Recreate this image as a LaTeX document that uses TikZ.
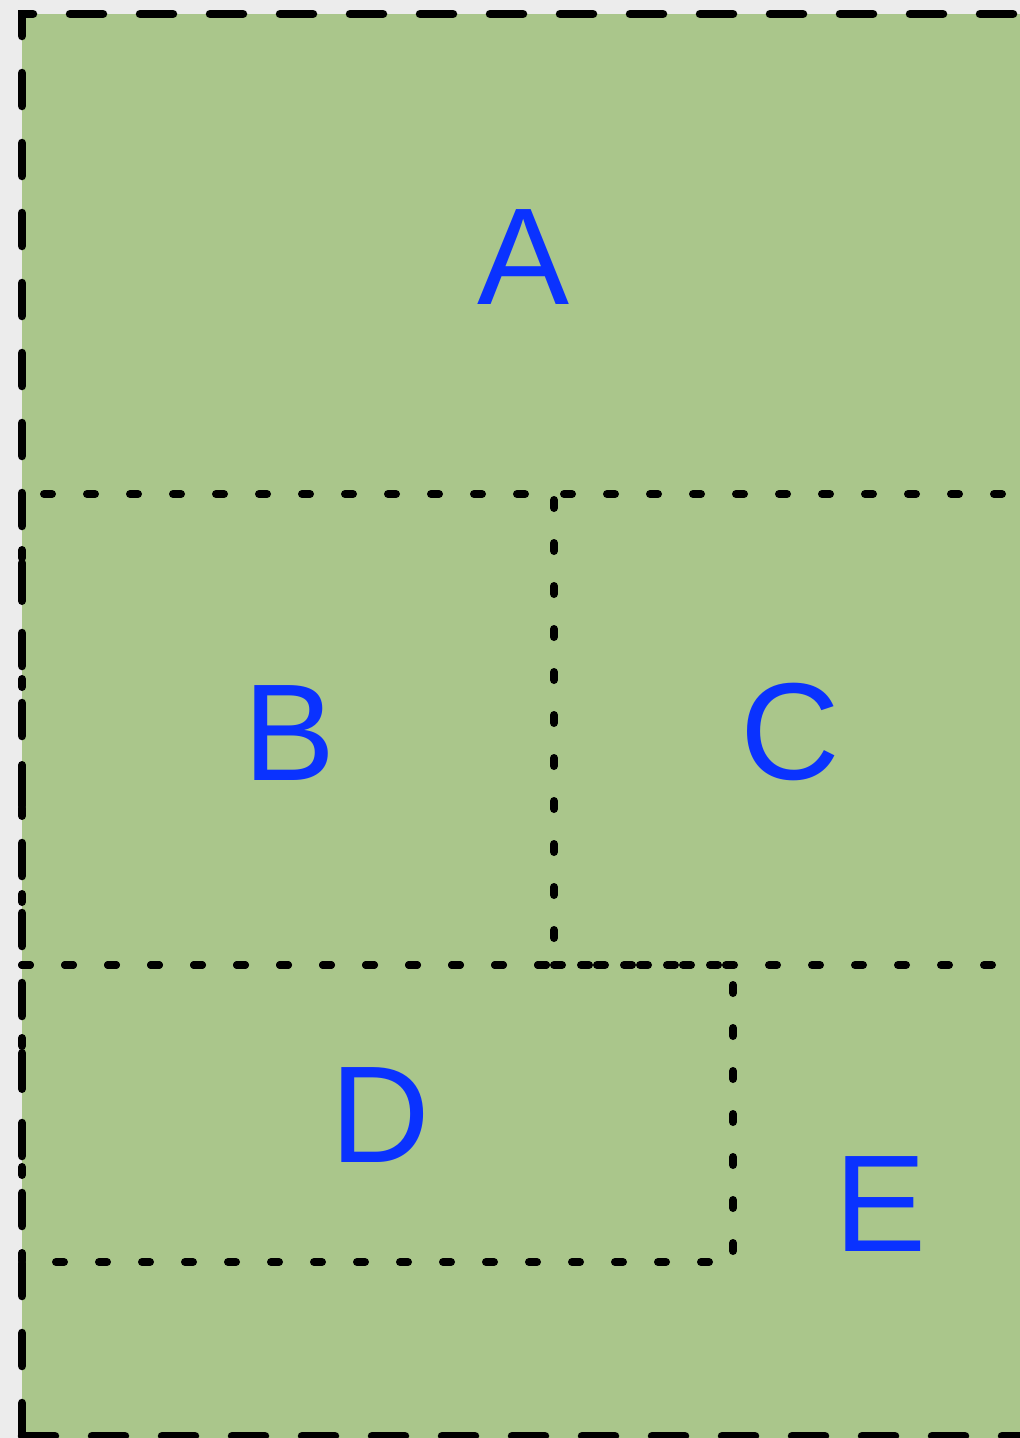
\documentclass[tikz,border=0pt]{standalone}
\usepackage{fontspec}
\setmainfont{Liberation Sans}
\definecolor{bggray}{HTML}{ECECEC}
\definecolor{leaf}{HTML}{AAC68B}
\definecolor{lblue}{RGB}{10,50,255}
\tikzset{
  outerline/.style={line width=8.5pt, line cap=round, dash pattern=on 33pt off 37pt},
  dotline/.style={line width=8pt, line cap=round, dash pattern=on 8pt off 35pt},
  lbl/.style={text=lblue, font=\fontsize{138}{138}\selectfont, anchor=base, inner sep=0pt}
}
\begin{document}
\begin{tikzpicture}[x=1pt,y=-1pt]
\useasboundingbox (0,0) rectangle (1020,1438);
\fill[bggray] (0,0) rectangle (1020,1438);
\fill[leaf] (22,14) rectangle (1080,1480);
% region borders
\coordinate (bl) at (22,965);
\draw[dotline] (bl) -- (554,965) -- (554,494) -- (22,494) -- cycle;
\draw[dotline] (554,965) -- (1080,965) -- (1080,494) -- (554,494);
\draw[dotline] (bl) -- (733,965) -- (733,1262) -- (22,1262) -- cycle;
\draw[outerline] (22,1436) -- (22,14) -- (1080,14);
\draw[outerline] (22,1436) -- (1080,1436);
% labels
\node[lbl] (A) at (524,304) {A};
\node[lbl] (B) at (290,780) {B};
\node[lbl] (C) at (790,779) {C};
\node[lbl] (D) at (380,1162) {D};
\node[lbl] (E) at (881,1251) {E};
\end{tikzpicture}
\end{document}
